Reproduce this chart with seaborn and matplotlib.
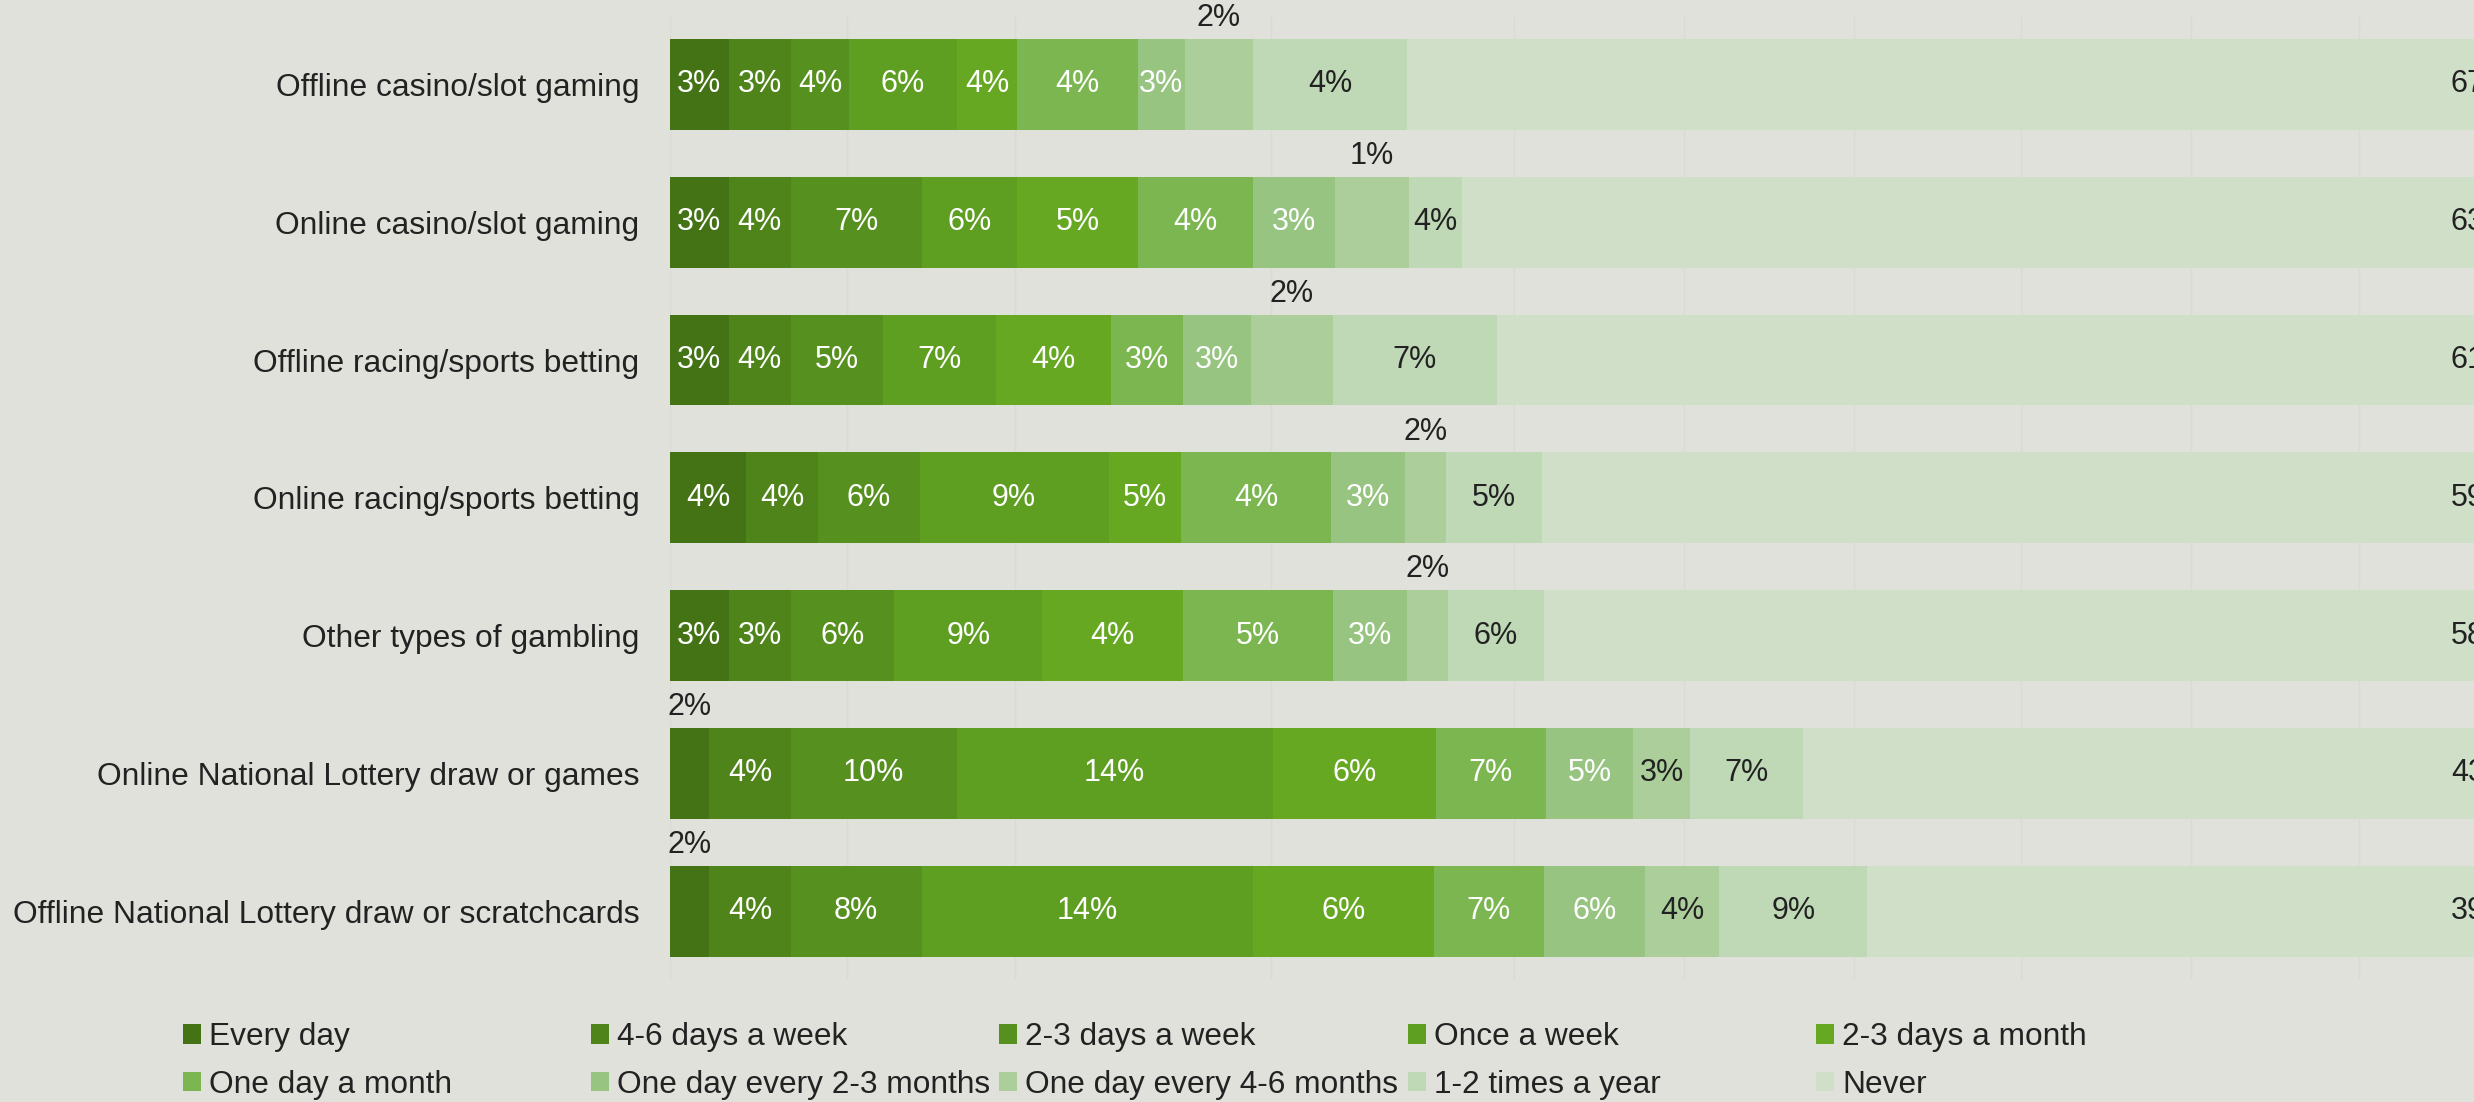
import matplotlib
matplotlib.use("Agg")
import matplotlib.pyplot as plt
from matplotlib.patches import Patch
import numpy as np
import pandas as pd
import seaborn as sns

# ---------------- data ----------------
categories = [
    "Offline casino/slot gaming",
    "Online casino/slot gaming",
    "Offline racing/sports betting",
    "Online racing/sports betting",
    "Other types of gambling",
    "Online National Lottery draw or games",
    "Offline National Lottery draw or scratchcards",
]
series = [
    "Every day", "4-6 days a week", "2-3 days a week", "Once a week",
    "2-3 days a month", "One day a month", "One day every 2-3 months",
    "One day every 4-6 months", "1-2 times a year", "Never",
]

# segment widths as drawn
every_day        = [3.0, 3.0, 3.0, 3.9, 3.0, 2.0, 2.0]
days_4_6_week    = [3.2, 3.2, 3.2, 3.7, 3.2, 4.2, 4.2]
days_2_3_week    = [3.0, 6.7, 4.7, 5.2, 5.3, 8.5, 6.7]
once_week        = [5.5, 4.9, 5.8, 9.7, 7.6, 16.2, 17.0]
days_2_3_month   = [3.1, 6.2, 5.9, 3.7, 7.2, 8.4, 9.3]
one_day_month    = [6.2, 5.9, 3.7, 7.7, 7.7, 5.6, 5.6]
every_2_3_months = [2.4, 4.2, 3.5, 3.8, 3.8, 4.5, 5.2]
every_4_6_months = [3.5, 3.8, 4.2, 2.1, 2.1, 2.9, 3.8]
times_1_2_year   = [7.9, 2.7, 8.4, 4.9, 4.9, 5.8, 7.6]
never            = [67, 63, 61, 59, 58, 43, 39]

# percentages printed on the segments
lab_every_day        = [3, 3, 3, 4, 3, 2, 2]
lab_days_4_6_week    = [3, 4, 4, 4, 3, 4, 4]
lab_days_2_3_week    = [4, 7, 5, 6, 6, 10, 8]
lab_once_week        = [6, 6, 7, 9, 9, 14, 14]
lab_days_2_3_month   = [4, 5, 4, 5, 4, 6, 6]
lab_one_day_month    = [4, 4, 3, 4, 5, 7, 7]
lab_every_2_3_months = [3, 3, 3, 3, 3, 5, 6]
lab_every_4_6_months = [2, 1, 2, 2, 2, 3, 4]
lab_times_1_2_year   = [4, 4, 7, 5, 6, 7, 9]
lab_never            = [67, 63, 61, 59, 58, 43, 39]

colors = ["#437315", "#4e8419", "#56901e", "#5e9e21", "#67a823",
          "#7cb650", "#97c480", "#abce9b", "#bfd8b5", "#d0e0c8"]

grid_x = [0, 9.1, 17.7, 30.8, 43.3, 52.0, 60.7, 69.3, 78.0, 86.6]

values = [every_day, days_4_6_week, days_2_3_week, once_week, days_2_3_month,
          one_day_month, every_2_3_months, every_4_6_months, times_1_2_year, never]
labels = [lab_every_day, lab_days_4_6_week, lab_days_2_3_week, lab_once_week,
          lab_days_2_3_month, lab_one_day_month, lab_every_2_3_months,
          lab_every_4_6_months, lab_times_1_2_year, lab_never]

# ---------------- style ----------------
BG = "#e0e1db"
TXT = "#222222"
sns.set_theme(style="white")
plt.rcParams["font.family"] = ["Liberation Sans", "DejaVu Sans"]

W, H = 2474, 1102
fig = plt.figure(figsize=(W / 100, H / 100), dpi=100, facecolor=BG)
ax = fig.add_axes([670 / W, 1 - 980 / H, 1 - 670 / W, (980 - 15.6) / H])
ax.set_facecolor(BG)

left = np.zeros(len(categories))
for s, vals, col in zip(series, values, colors):
    df = pd.DataFrame({"cat": categories, "val": vals})
    sns.barplot(data=df, x="val", y="cat", order=categories, orient="y",
                color=col, saturation=1, width=0.66, errorbar=None,
                left=left.copy(), linewidth=0, ax=ax)
    left = left + np.array(vals, dtype=float)

ax.set_xlim(0, (W - 670) / 19.5)
ax.set_ylim(len(categories) - 0.5, -0.5)
ax.set_xlabel("")
ax.set_ylabel("")
ax.set_xticks(grid_x)
ax.set_xticklabels([])
ax.grid(axis="x", color="#dadbd5", linewidth=1.0)
ax.grid(axis="y", visible=False)
ax.set_axisbelow(True)
ax.tick_params(axis="both", length=0)
ax.tick_params(axis="y", pad=22, labelsize=22.9, labelcolor=TXT)
for sp in ax.spines.values():
    sp.set_visible(False)

# ---------------- labels ----------------
NEVER_LABEL_X = (2451 - 670) / 19.5
starts = np.zeros(len(categories))
for j, (vals, labs) in enumerate(zip(values, labels)):
    for i in range(len(categories)):
        w = vals[i]
        txt = f"{labs[i]}%"
        if j == len(series) - 1:
            ax.text(NEVER_LABEL_X, i, txt, ha="left", va="center",
                    fontsize=22, color=TXT, clip_on=False)
        elif labs[i] <= 2:
            ax.text(starts[i] + w / 2, i - 0.48, txt, ha="center", va="center",
                    fontsize=22, color=TXT)
        else:
            ax.text(starts[i] + w / 2, i, txt, ha="center", va="center",
                    fontsize=22, color="white" if j < 7 else TXT)
        starts[i] += w

# ---------------- legend (5 columns x 2 rows) ----------------
col_x = [183, 591, 999, 1408, 1816]
for c in range(5):
    idx = [c, c + 5]
    handles = [Patch(facecolor=colors[k], edgecolor="none") for k in idx]
    fig.legend(handles, [series[k] for k in idx], loc="upper left",
               bbox_to_anchor=(col_x[c] / W, 1 - 1022 / H), frameon=False,
               fontsize=22.75, handlelength=0.57, handleheight=0.57,
               handletextpad=0.25, labelspacing=0.56, borderpad=0,
               borderaxespad=0, labelcolor=TXT)

fig.savefig("out.png", dpi=100, facecolor=BG)
